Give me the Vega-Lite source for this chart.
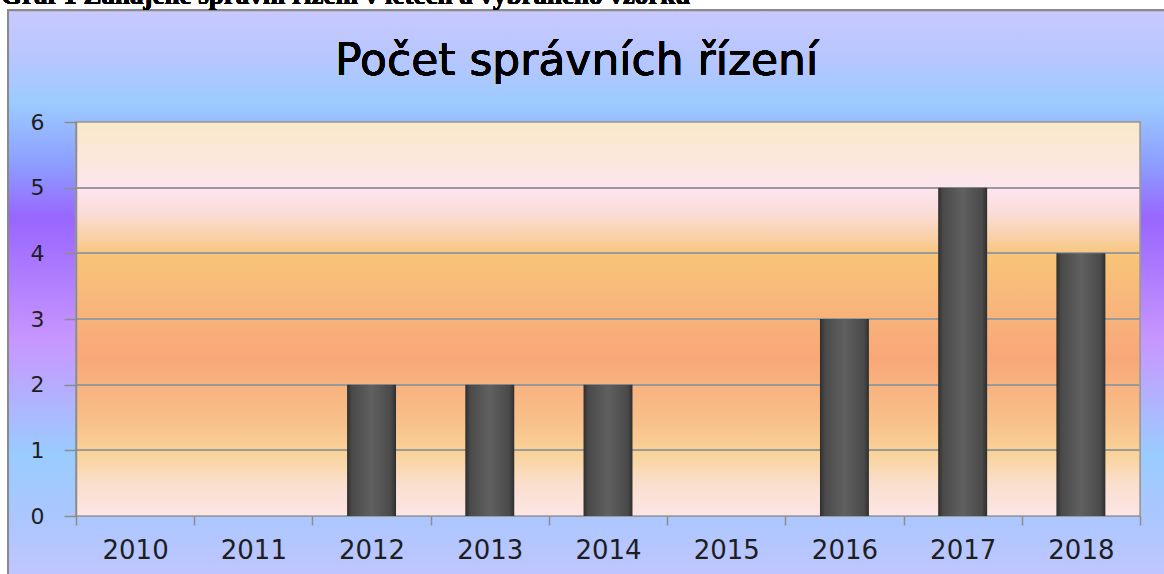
{
  "$schema": "https://vega.github.io/schema/vega-lite/v6.json",
  "autosize": "none",
  "width": 1064,
  "height": 394,
  "padding": {"left": 76, "top": 122, "right": 24, "bottom": 58},
  "background": "#ffffff",
  "config": {"view": {"stroke": null}},
  "data": {
    "values": [
      {"rok": "2010", "pocet": 0},
      {"rok": "2011", "pocet": 0},
      {"rok": "2012", "pocet": 2},
      {"rok": "2013", "pocet": 2},
      {"rok": "2014", "pocet": 2},
      {"rok": "2015", "pocet": 0},
      {"rok": "2016", "pocet": 3},
      {"rok": "2017", "pocet": 5},
      {"rok": "2018", "pocet": 4}
    ]
  },
  "resolve": {"scale": {"x": "independent", "y": "independent"}},
  "layer": [
    {
      "mark": {
        "type": "rect",
        "stroke": "#8a8a8a",
        "strokeWidth": 2,
        "fill": {
          "gradient": "linear", "x1": 0, "y1": 0, "x2": 0, "y2": 1,
          "stops": [
            {"offset": 0, "color": "#C8C9FF"},
            {"offset": 0.08, "color": "#B8C6FF"},
            {"offset": 0.16, "color": "#9CCBFF"},
            {"offset": 0.27, "color": "#8C9CFF"},
            {"offset": 0.36, "color": "#9966FF"},
            {"offset": 0.44, "color": "#AA78FF"},
            {"offset": 0.57, "color": "#C896FF"},
            {"offset": 0.68, "color": "#B0B4FF"},
            {"offset": 0.77, "color": "#99CCFF"},
            {"offset": 0.89, "color": "#AEC6FF"},
            {"offset": 1, "color": "#C4C6FF"}
          ]
        }
      },
      "encoding": {
        "x": {"datum": -0.0639, "type": "quantitative", "scale": {"domain": [0, 1], "nice": false, "zero": false}, "axis": null},
        "x2": {"datum": 1.06},
        "y": {"datum": 7.7, "type": "quantitative", "scale": {"domain": [0, 6], "nice": false}, "axis": null},
        "y2": {"datum": -1.1}
      }
    },
    {
      "mark": {
        "type": "rect",
        "stroke": "#9a9a9a",
        "strokeWidth": 1.5,
        "fill": {
          "gradient": "linear", "x1": 0, "y1": 0, "x2": 0, "y2": 1,
          "stops": [
            {"offset": 0, "color": "#FAE8CA"},
            {"offset": 0.1, "color": "#FBE8DC"},
            {"offset": 0.17, "color": "#FDE4F0"},
            {"offset": 0.23, "color": "#FBDDD8"},
            {"offset": 0.3, "color": "#F8CFA0"},
            {"offset": 0.34, "color": "#F8C478"},
            {"offset": 0.46, "color": "#F8B67C"},
            {"offset": 0.6, "color": "#F8A878"},
            {"offset": 0.76, "color": "#F8C08A"},
            {"offset": 0.84, "color": "#F9D398"},
            {"offset": 0.92, "color": "#FADFCE"},
            {"offset": 1, "color": "#FCE6E6"}
          ]
        }
      },
      "encoding": {
        "x": {"datum": 0, "type": "quantitative", "scale": {"domain": [0, 1], "nice": false, "zero": false}, "axis": null},
        "x2": {"datum": 1},
        "y": {"datum": 0, "type": "quantitative", "scale": {"domain": [0, 6], "nice": false}, "axis": null},
        "y2": {"datum": 6}
      }
    },
    {
      "mark": {"type": "rule", "stroke": "#9a9a9a", "strokeWidth": 1.5},
      "encoding": {
        "x": {"datum": 0, "type": "quantitative", "scale": {"domain": [0, 1], "nice": false, "zero": false}, "axis": null},
        "x2": {"datum": 1},
        "y": {"datum": 1, "type": "quantitative", "scale": {"domain": [0, 6], "nice": false}, "axis": null}
      }
    },
    {
      "mark": {"type": "rule", "stroke": "#9a9a9a", "strokeWidth": 1.5},
      "encoding": {
        "x": {"datum": 0, "type": "quantitative", "scale": {"domain": [0, 1], "nice": false, "zero": false}, "axis": null},
        "x2": {"datum": 1},
        "y": {"datum": 2, "type": "quantitative", "scale": {"domain": [0, 6], "nice": false}, "axis": null}
      }
    },
    {
      "mark": {"type": "rule", "stroke": "#9a9a9a", "strokeWidth": 1.5},
      "encoding": {
        "x": {"datum": 0, "type": "quantitative", "scale": {"domain": [0, 1], "nice": false, "zero": false}, "axis": null},
        "x2": {"datum": 1},
        "y": {"datum": 3, "type": "quantitative", "scale": {"domain": [0, 6], "nice": false}, "axis": null}
      }
    },
    {
      "mark": {"type": "rule", "stroke": "#9a9a9a", "strokeWidth": 1.5},
      "encoding": {
        "x": {"datum": 0, "type": "quantitative", "scale": {"domain": [0, 1], "nice": false, "zero": false}, "axis": null},
        "x2": {"datum": 1},
        "y": {"datum": 4, "type": "quantitative", "scale": {"domain": [0, 6], "nice": false}, "axis": null}
      }
    },
    {
      "mark": {"type": "rule", "stroke": "#9a9a9a", "strokeWidth": 1.5},
      "encoding": {
        "x": {"datum": 0, "type": "quantitative", "scale": {"domain": [0, 1], "nice": false, "zero": false}, "axis": null},
        "x2": {"datum": 1},
        "y": {"datum": 5, "type": "quantitative", "scale": {"domain": [0, 6], "nice": false}, "axis": null}
      }
    },
    {
      "mark": {
        "type": "bar",
        "width": {"band": 0.414},
        "fill": {
          "gradient": "linear", "x1": 0, "y1": 0, "x2": 1, "y2": 0,
          "stops": [
            {"offset": 0, "color": "#2e2e2e"},
            {"offset": 0.1, "color": "#4a4a4a"},
            {"offset": 0.5, "color": "#606060"},
            {"offset": 0.9, "color": "#4a4a4a"},
            {"offset": 1, "color": "#2e2e2e"}
          ]
        }
      },
      "encoding": {
        "x": {
          "field": "rok",
          "type": "ordinal",
          "scale": {"paddingInner": 0, "paddingOuter": 0},
          "axis": {
            "orient": "bottom",
            "title": null,
            "zindex": 1,
            "labelAngle": 0,
            "labelFont": "DejaVu Sans",
            "labelFontSize": 26,
            "labelColor": "#1e1e1e",
            "labelPadding": 12,
            "tickBand": "extent",
            "tickSize": 9,
            "tickColor": "#8c8c8c",
            "tickWidth": 1.5,
            "domain": false,
            "grid": false
          }
        },
        "y": {
          "field": "pocet",
          "type": "quantitative",
          "scale": {"domain": [0, 6], "nice": false},
          "axis": {
            "orient": "left",
            "title": null,
            "zindex": 1,
            "values": [0, 1, 2, 3, 4, 5, 6],
            "labelFont": "DejaVu Sans",
            "labelFontSize": 22,
            "labelColor": "#1e1e1e",
            "labelPadding": 20,
            "tickSize": 12,
            "tickColor": "#8c8c8c",
            "tickWidth": 1.5,
            "domainColor": "#8c8c8c",
            "domainWidth": 1.5,
            "grid": false
          }
        }
      }
    },
    {
      "mark": {
        "type": "text",
        "text": "Počet správních řízení",
        "font": "DejaVu Sans",
        "fontSize": 44,
        "align": "center",
        "baseline": "alphabetic",
        "color": "#000000"
      },
      "encoding": {
        "x": {"datum": 0.4705, "type": "quantitative", "scale": {"domain": [0, 1], "nice": false, "zero": false}, "axis": null},
        "y": {"datum": 6.716, "type": "quantitative", "scale": {"domain": [0, 6], "nice": false}, "axis": null}
      }
    },
    {
      "mark": {
        "type": "text",
        "text": "Graf 1 Zahájené správní řízení v letech a vybraného vzorku",
        "font": "Liberation Serif",
        "fontWeight": "bold",
        "fontSize": 27,
        "align": "left",
        "baseline": "alphabetic",
        "color": "#000000"
      },
      "encoding": {
        "x": {"datum": -0.0705, "type": "quantitative", "scale": {"domain": [0, 1], "nice": false, "zero": false}, "axis": null},
        "y": {"datum": 7.8, "type": "quantitative", "scale": {"domain": [0, 6], "nice": false}, "axis": null}
      }
    }
  ]
}
